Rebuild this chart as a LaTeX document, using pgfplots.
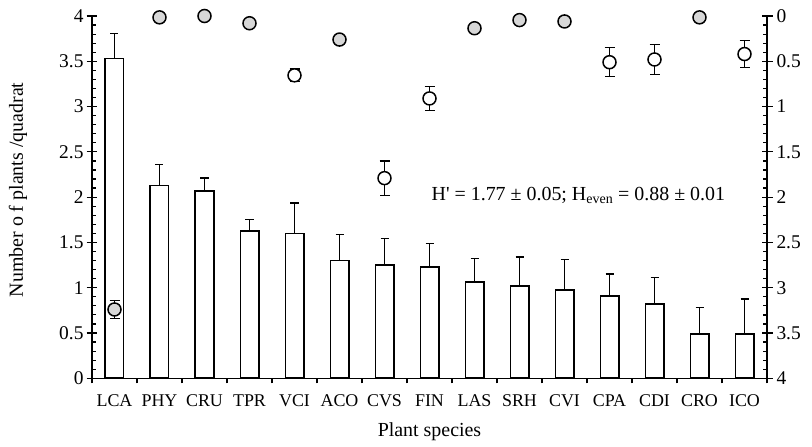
\documentclass[border=0pt]{standalone}
\usepackage{fontspec}
\setmainfont{Liberation Serif}
\usepackage{pgfplots}
\pgfplotsset{compat=1.18}
\usepackage{pgfplotstable}

\pgfplotstableread{
x y e
0 3.53 0.28
1 2.13 0.23
2 2.07 0.14
3 1.63 0.12
4 1.60 0.335
5 1.30 0.285
6 1.25 0.29
7 1.225 0.265
8 1.066 0.254
9 1.02 0.32
10 0.975 0.335
11 0.91 0.24
12 0.82 0.29
13 0.49 0.29
14 0.49 0.385
}\bars

\pgfplotstableread{
x y
1 0.015
2 0.0
3 0.08
5 0.26
8 0.135
9 0.045
10 0.06
13 0.015
}\graypts

\pgfplotstableread{
x y e
0 3.24 0.10
}\graylca

\pgfplotstableread{
x y e
4 0.655 0.07
6 1.79 0.19
7 0.91 0.13
11 0.51 0.16
12 0.48 0.165
14 0.42 0.15
}\whitepts

\definecolor{circgray}{RGB}{215,215,215}
\newcommand{\fsx}{\fontsize{18}{21}\selectfont}
\newcommand{\fsy}{\fontsize{19.5}{22}\selectfont}
\newcommand{\fsl}{\fontsize{20}{23}\selectfont}

\pgfplotsset{
  common/.style={
    scale only axis,
    width=675bp, height=362.3bp,
    xmin=-0.5, xmax=14.5,
    ymin=0, ymax=4,
    clip=false,
    tick align=inside,
    major tick length=5bp,
    minor tick length=4bp,
    every tick/.style={black, line width=1.2bp},
    minor tick style={black, line width=1.2bp},
    axis line style={line width=1.4bp},
    xticklabel style={font=\fsx},
    yticklabel style={font=\fsy},
    label style={font=\fsl},
    /pgf/number format/assume math mode=true,
    ytick={0,0.5,...,4},
    minor y tick num=4,
    extra y ticks={0,0.5,...,4},
    extra y tick labels={},
    extra y tick style={tick align=outside, major tick length=5.5bp},
  }
}

\begin{document}
\begin{tikzpicture}
\path[use as bounding box] (-92bp,-68.7bp) rectangle (720bp,378.3bp);
\begin{axis}[
  common,
  axis y line*=left,
  axis x line*=bottom,
  xtick={0,...,14},
  xticklabels={LCA,PHY,CRU,TPR,VCI,ACO,CVS,FIN,LAS,SRH,CVI,CPA,CDI,CRO,ICO},
  extra x ticks={-0.5,0.5,...,14.5},
  extra x tick labels={},
  extra x tick style={tick align=outside, major tick length=5bp},
  xlabel={Plant species},
  ylabel={Number o f plants /quadrat},
  xlabel style={at={(axis description cs:0.5,-0.16)}, anchor=base},
  ylabel style={at={(axis description cs:-0.1096,0.52)}, anchor=center},
  xticklabel style={yshift=-13bp},
  yticklabel style={xshift=-5bp},
]
\addplot[ybar, bar width=18.3bp, fill=white, draw=black, line width=1.7bp,
  error bars/.cd, y dir=plus, y explicit,
  error bar style={line width=1.3bp, black},
  error mark options={rotate=90, mark size=4bp, line width=1.3bp, black}]
  table[x=x, y=y, y error=e] {\bars};
\node[anchor=base west, font=\fsl] at (axis cs:6.97,1.968)
  {H\textquotesingle{} = 1.77 ± 0.05; H\textsubscript{even} = 0.88 ± 0.01};
\end{axis}
\begin{axis}[
  common,
  axis y line*=right,
  axis x line=none,
  y dir=reverse,
  yticklabel style={xshift=6bp},
]
\addplot[only marks, mark=*, mark size=6.5bp,
  mark options={fill=circgray, draw=black, line width=1.5bp}]
  table[x=x, y=y] {\graypts};
\addplot[only marks, mark=*, mark size=6.5bp,
  mark options={fill=circgray, draw=black, line width=1.5bp},
  error bars/.cd, y dir=both, y explicit,
  error bar style={line width=1.3bp, black},
  error mark options={rotate=90, mark size=5bp, line width=1.3bp, black}]
  table[x=x, y=y, y error=e] {\graylca};
\addplot[only marks, mark=*, mark size=6.5bp,
  mark options={fill=white, draw=black, line width=1.5bp},
  error bars/.cd, y dir=both, y explicit,
  error bar style={line width=1.3bp, black},
  error mark options={rotate=90, mark size=5bp, line width=1.3bp, black}]
  table[x=x, y=y, y error=e] {\whitepts};
\end{axis}
\end{tikzpicture}
\end{document}
